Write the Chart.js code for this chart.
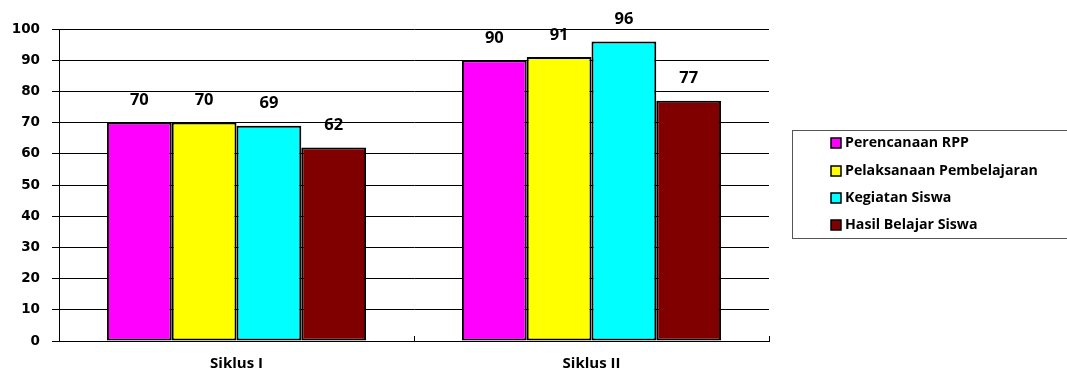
<!DOCTYPE html>
<html>
<head>
<meta charset="utf-8">
<script src="https://cdn.jsdelivr.net/npm/chart.js@4/dist/chart.umd.min.js"></script>
<style>
  html, body { margin: 0; padding: 0; background: #fff; }
  #wrap { width: 1067px; height: 374px; position: relative; }
</style>
</head>
<body>
<div id="wrap"><canvas id="c" width="1067" height="374"></canvas></div>
<script>
// Categories and series values
const categories = ['Siklus I', 'Siklus II'];
const seriesNames = ['Perencanaan RPP', 'Pelaksanaan Pembelajaran', 'Kegiatan Siswa', 'Hasil Belajar Siswa'];
const perencanaanRPP = [70, 90];
const pelaksanaanPembelajaran = [70, 91];
const kegiatanSiswa = [69, 96];
const hasilBelajarSiswa = [62, 77];
const seriesColors = ['#FF00FF', '#FFFF00', '#00FFFF', '#800000'];
const yTicks = [0, 10, 20, 30, 40, 50, 60, 70, 80, 90, 100];

const seriesValues = [perencanaanRPP, pelaksanaanPembelajaran, kegiatanSiswa, hasilBelajarSiswa];

const textFont = '"Open Sans", Lato, sans-serif';

// Value labels above each bar
const valueLabels = {
  id: 'valueLabels',
  afterDatasetsDraw(chart) {
    const ctx = chart.ctx;
    ctx.save();
    ctx.font = 'bold 16.5px ' + textFont;
    ctx.fillStyle = '#000';
    ctx.textAlign = 'center';
    ctx.textBaseline = 'middle';
    chart.data.datasets.forEach((ds, i) => {
      chart.getDatasetMeta(i).data.forEach((bar, j) => {
        ctx.fillText(String(ds.data[j]), bar.x, bar.y - 22);
      });
    });
    ctx.restore();
  }
};

// Small tick marks at category boundaries, pointing up from the axis
const boundaryTicks = {
  id: 'boundaryTicks',
  afterDraw(chart) {
    const x = chart.scales.x;
    const ctx = chart.ctx;
    const bottom = chart.chartArea.bottom;
    const step = x.getPixelForValue(1) - x.getPixelForValue(0);
    ctx.save();
    ctx.strokeStyle = '#000';
    ctx.lineWidth = 1;
    for (let i = 1; i <= categories.length; i++) {
      const px = Math.round(x.getPixelForValue(i - 1) + step / 2) + 0.5;
      ctx.beginPath();
      ctx.moveTo(px, bottom);
      ctx.lineTo(px, bottom - 5);
      ctx.stroke();
    }
    ctx.restore();
  }
};

// Framed legend on the right
const boxedLegend = {
  id: 'boxedLegend',
  afterDraw(chart) {
    const ctx = chart.ctx;
    ctx.save();
    const bx = 792.5, by = 130.5, bw = 280, bh = 108;
    ctx.strokeStyle = '#555';
    ctx.lineWidth = 1;
    ctx.strokeRect(bx, by, bw, bh);
    ctx.font = 'bold 14.2px ' + textFont;
    ctx.textBaseline = 'middle';
    ctx.textAlign = 'left';
    const rows = [143, 171, 198, 225];
    chart.data.datasets.forEach((ds, i) => {
      const y = rows[i];
      ctx.fillStyle = ds.backgroundColor;
      ctx.fillRect(831, y - 5, 10, 10);
      ctx.strokeStyle = '#000';
      ctx.lineWidth = 1.5;
      ctx.strokeRect(831, y - 5, 10, 10);
      ctx.fillStyle = '#000';
      ctx.fillText(ds.label, 845, y);
    });
    ctx.restore();
  }
};

new Chart(document.getElementById('c'), {
  type: 'bar',
  data: {
    labels: categories,
    datasets: seriesNames.map((name, i) => ({
      label: name,
      data: seriesValues[i],
      backgroundColor: seriesColors[i],
      borderColor: '#000',
      borderWidth: 2,
      borderSkipped: false,
      categoryPercentage: 0.73,
      barPercentage: 1.0
    }))
  },
  options: {
    responsive: false,
    animation: false,
    devicePixelRatio: 1,
    layout: { padding: { top: 29, right: 298, left: 0, bottom: 0 } },
    plugins: {
      legend: { display: false },
      tooltip: { enabled: false }
    },
    scales: {
      x: {
        grid: { display: false, drawTicks: false },
        border: { color: '#000', width: 1 },
        ticks: {
          color: '#000',
          font: { family: textFont, weight: 'bold', size: 15 },
          padding: 14
        },
        afterFit(scale) { scale.height = 33; }
      },
      y: {
        min: 0,
        max: 100,
        afterBuildTicks(scale) { scale.ticks = yTicks.map(v => ({ value: v })); },
        grid: { color: '#000', lineWidth: 1, tickLength: 7 },
        border: { color: '#000', width: 1 },
        ticks: {
          color: '#000',
          font: { family: '"DejaVu Sans", sans-serif', weight: 'bold', size: 13.5 },
          padding: 12
        },
        afterFit(scale) { scale.width = 59; }
      }
    }
  },
  plugins: [valueLabels, boundaryTicks, boxedLegend]
});
</script>
</body>
</html>
